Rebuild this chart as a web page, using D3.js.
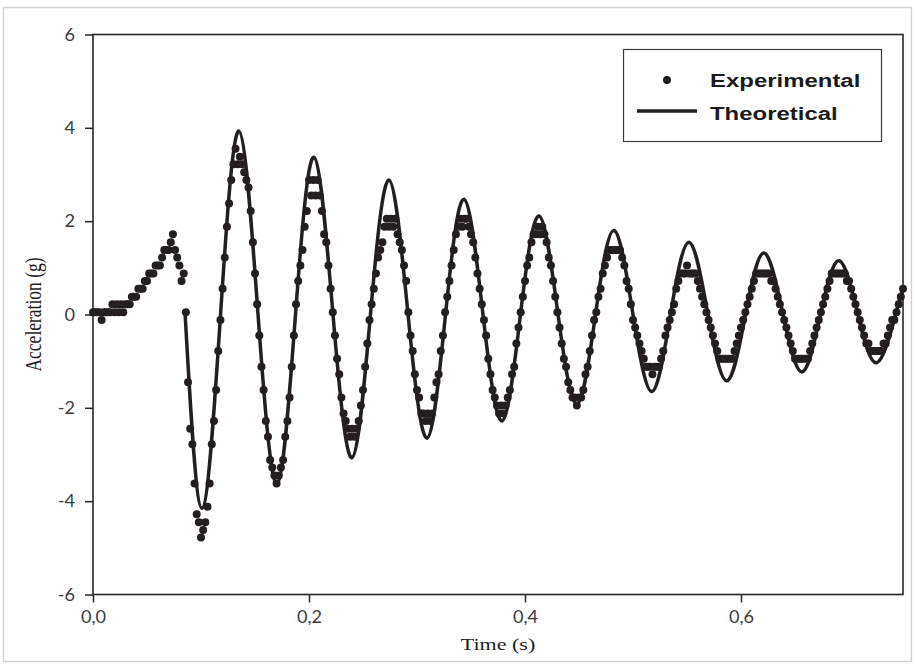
<!DOCTYPE html>
<html>
<head>
<meta charset="utf-8">
<script src="https://cdn.jsdelivr.net/npm/d3@7"></script>
<style>
  html, body { margin: 0; padding: 0; background: #fff; }
  svg { display: block; }
</style>
</head>
<body>
<svg id="chart" width="915" height="666"></svg>
<script>
// ---- data -------------------------------------------------------------
// Accelerometer record: one reading every 2 ms, starting at t = 0 s (g)
const sampleInterval = 0.002;
const expValues = [
  0.05, 0.05, 0.05, 0.05, -0.12, 0.05, 0.05, 0.05, 0.05, 0.22,
  0.05, 0.22, 0.05, 0.22, 0.05, 0.22, 0.22, 0.22, 0.38, 0.38,
  0.38, 0.55, 0.55, 0.55, 0.72, 0.72, 0.88, 0.88, 0.88, 1.05,
  1.05, 1.05, 1.22, 1.38, 1.38, 1.38, 1.55, 1.72, 1.38, 1.22,
  1.05, 0.72, 0.88, 0.05, -1.45, -2.45, -2.78, -3.62, -4.28, -4.45,
  -4.78, -4.62, -4.45, -4.12, -3.62, -2.78, -2.28, -1.62, -0.78, -0.12,
  0.55, 1.22, 1.88, 2.38, 2.88, 3.22, 3.55, 3.22, 3.38, 3.22,
  3.05, 2.88, 2.72, 2.22, 1.55, 0.88, 0.22, -0.45, -1.12, -1.62,
  -2.28, -2.62, -3.12, -3.28, -3.45, -3.62, -3.45, -3.28, -3.12, -2.62,
  -2.28, -1.78, -1.12, -0.45, 0.22, 0.72, 1.05, 1.38, 1.88, 2.22,
  2.88, 2.55, 2.88, 2.55, 2.88, 2.55, 2.22, 1.72, 1.55, 1.05,
  0.55, 0.05, -0.45, -0.95, -1.28, -1.78, -2.12, -2.28, -2.45, -2.62,
  -2.45, -2.62, -2.45, -2.28, -1.95, -1.62, -1.12, -0.62, -0.12, 0.22,
  0.55, 0.88, 1.22, 1.38, 1.55, 1.88, 2.05, 1.88, 2.05, 1.88,
  2.05, 1.72, 1.55, 1.38, 1.05, 0.72, 0.05, -0.45, -0.78, -1.28,
  -1.62, -1.78, -2.12, -2.12, -2.28, -2.12, -2.28, -2.12, -1.78, -1.45,
  -1.28, -0.78, -0.45, 0.05, 0.38, 0.72, 1.05, 1.38, 1.72, 1.88,
  2.05, 1.88, 2.05, 2.05, 1.88, 1.72, 1.55, 1.22, 0.88, 0.55,
  0.22, -0.12, -0.45, -0.95, -1.28, -1.62, -1.78, -1.95, -2.12, -1.95,
  -2.12, -1.95, -1.78, -1.62, -1.28, -1.12, -0.62, -0.28, 0.05, 0.38,
  0.72, 1.05, 1.22, 1.55, 1.72, 1.72, 1.88, 1.72, 1.88, 1.72,
  1.55, 1.22, 1.05, 0.72, 0.38, 0.05, -0.28, -0.62, -0.95, -1.12,
  -1.45, -1.62, -1.78, -1.78, -1.95, -1.78, -1.78, -1.62, -1.28, -1.12,
  -0.78, -0.45, -0.12, 0.05, 0.38, 0.55, 0.88, 1.05, 1.22, 1.38,
  1.38, 1.38, 1.38, 1.38, 1.38, 1.22, 1.05, 0.72, 0.55, 0.22,
  -0.12, -0.28, -0.45, -0.62, -0.78, -0.95, -1.12, -1.12, -1.12, -1.28,
  -1.12, -1.12, -1.12, -0.95, -0.78, -0.45, -0.28, -0.12, 0.05, 0.22,
  0.55, 0.72, 0.88, 0.88, 0.88, 1.05, 0.88, 0.88, 0.88, 0.88,
  0.72, 0.55, 0.38, 0.22, 0.05, -0.12, -0.28, -0.45, -0.62, -0.78,
  -0.95, -0.95, -0.95, -0.95, -0.95, -0.95, -0.95, -0.78, -0.62, -0.45,
  -0.28, -0.12, 0.05, 0.22, 0.38, 0.55, 0.72, 0.88, 0.88, 0.88,
  0.88, 0.88, 0.88, 0.88, 0.72, 0.72, 0.55, 0.38, 0.22, 0.05,
  -0.12, -0.28, -0.45, -0.62, -0.78, -0.95, -0.95, -0.95, -0.95, -0.95,
  -0.95, -0.95, -0.78, -0.62, -0.45, -0.28, -0.12, 0.05, 0.22, 0.38,
  0.55, 0.72, 0.88, 0.88, 0.88, 0.88, 0.88, 0.88, 0.88, 0.72,
  0.72, 0.55, 0.38, 0.22, 0.05, -0.12, -0.28, -0.45, -0.62, -0.62,
  -0.78, -0.78, -0.78, -0.78, -0.78, -0.78, -0.62, -0.62, -0.45, -0.28,
  -0.12, -0.12, 0.05, 0.22, 0.38, 0.55
];

// Model response: extrema and zero crossings of the damped oscillation
const theoTime = [
  0.0852, 0.1009, 0.1181, 0.1352, 0.1528, 0.1704, 0.1875, 0.2046, 0.2222, 0.2398,
  0.2569, 0.2741, 0.2917, 0.3093, 0.3264, 0.3435, 0.3611, 0.3787, 0.3958, 0.4130,
  0.4306, 0.4481, 0.4653, 0.4824, 0.5000, 0.5176, 0.5347, 0.5519, 0.5694, 0.5870,
  0.6042, 0.6213, 0.6389, 0.6565, 0.6736, 0.6907, 0.7083, 0.7259, 0.7431, 0.7500
];
const theoValue = [
  0.05, -4.15, 0, 3.93, 0, -3.63, 0, 3.37, 0, -3.07,
  0, 2.88, 0, -2.65, 0, 2.47, 0, -2.28, 0, 2.11,
  0, -1.92, 0, 1.80, 0, -1.65, 0, 1.55, 0, -1.42,
  0, 1.32, 0, -1.23, 0, 1.15, 0, -1.03, 0, 0.57
];

const xTicks = [0, 0.2, 0.4, 0.6];
const yTicks = [-6, -4, -2, 0, 2, 4, 6];
const seriesNames = ["Experimental", "Theoretical"];

// ---- layout -----------------------------------------------------------
const ink = "#231f20";
const axisInk = "#262626";
const stretch = 1.26;     // horizontal glyph widening used for titles and legend
const tickStretch = 1.1;  // milder widening for tick numbers

const svg = d3.select("#chart");

// light outer frame
svg.append("rect")
  .attr("x", 3.5).attr("y", 7.5)
  .attr("width", 908).attr("height", 654)
  .attr("fill", "none").attr("stroke", "#d2d2d2").attr("stroke-width", 1.5);

const x = d3.scaleLinear().domain([0, 0.75]).range([93, 903]);
const y = d3.scaleLinear().domain([-6, 6]).range([594.5, 34.5]);

const locale = d3.formatLocale({
  decimal: ",", thousands: ".", grouping: [3], currency: ["", ""], minus: "-"
});
const fmtX = locale.format(".1f");
const fmtY = locale.format("d");

// axes
const gx = svg.append("g")
  .attr("transform", `translate(0,${y(-6)})`)
  .call(d3.axisBottom(x).tickValues(xTicks).tickSize(8).tickSizeOuter(0)
    .tickPadding(9).tickFormat(fmtX));
const gy = svg.append("g")
  .attr("transform", `translate(${x(0)},0)`)
  .call(d3.axisLeft(y).tickValues(yTicks).tickSize(8).tickSizeOuter(0)
    .tickPadding(10).tickFormat(fmtY));

[gx, gy].forEach(g => {
  g.select(".domain").remove();
  g.selectAll(".tick line").attr("stroke", axisInk).attr("stroke-width", 1.5);
  g.selectAll(".tick text")
    .attr("fill", "#3c3c3c")
    .style("font-family", "Lato, 'Open Sans', sans-serif")
    .style("font-weight", 400)
    .style("font-size", "16.5px");
});
gx.selectAll(".tick text").attr("transform", `scale(${tickStretch},1)`);
gy.selectAll(".tick text")
  .attr("x", -18 / tickStretch)
  .attr("dy", "0.34em")
  .attr("transform", `scale(${tickStretch},1)`);

// plot frame
svg.append("rect")
  .attr("x", x(0)).attr("y", y(6))
  .attr("width", x(0.75) - x(0)).attr("height", y(-6) - y(6))
  .attr("fill", "none").attr("stroke", axisInk).attr("stroke-width", 1.6);

// axis titles
svg.append("g")
  .attr("transform", `translate(${(x(0) + x(0.75)) / 2},650) scale(${stretch},1)`)
  .append("text")
  .attr("text-anchor", "middle")
  .attr("fill", "#1e1e1e")
  .style("font-family", "'Liberation Serif', 'DejaVu Serif', serif")
  .style("font-size", "17.5px")
  .text("Time (s)");

svg.append("g")
  .attr("transform", `translate(41,${(y(6) + y(-6)) / 2}) scale(${stretch},1) rotate(-90)`)
  .append("text")
  .attr("text-anchor", "middle")
  .attr("fill", "#1e1e1e")
  .style("font-family", "'Liberation Serif', 'DejaVu Serif', serif")
  .style("font-size", "17.5px")
  .text("Acceleration (g)");

// ---- series -----------------------------------------------------------
const theo = theoTime.map((t, i) => ({ t, v: theoValue[i] }));
const line = d3.line().x(d => x(d.t)).y(d => y(d.v)).curve(d3.curveNatural);

svg.append("path")
  .datum(theo)
  .attr("d", line)
  .attr("fill", "none")
  .attr("stroke", ink)
  .attr("stroke-width", 3.5)
  .attr("stroke-linejoin", "round");

const exp = expValues.map((v, i) => ({ t: i * sampleInterval, v }));
svg.append("g").selectAll("circle")
  .data(exp)
  .join("circle")
  .attr("cx", d => x(d.t))
  .attr("cy", d => y(d.v))
  .attr("r", 4)
  .attr("fill", ink);

// ---- legend -----------------------------------------------------------
const lg = svg.append("g");
lg.append("rect")
  .attr("x", 623.5).attr("y", 49.5).attr("width", 258).attr("height", 92)
  .attr("fill", "#fff").attr("stroke", "#3a3a3a").attr("stroke-width", 1.2);
lg.append("circle").attr("cx", 667).attr("cy", 80).attr("r", 4).attr("fill", ink);
lg.append("line")
  .attr("x1", 637).attr("x2", 697).attr("y1", 111).attr("y2", 111)
  .attr("stroke", ink).attr("stroke-width", 3.5);
[[87, seriesNames[0]], [120, seriesNames[1]]].forEach(([by, label]) => {
  lg.append("g")
    .attr("transform", `translate(710,${by}) scale(${stretch},1)`)
    .append("text")
    .attr("fill", "#1a1a1a")
    .style("font-family", "'Liberation Sans', Arial, sans-serif")
    .style("font-weight", "bold")
    .style("font-size", "19px")
    .text(label);
});
</script>
</body>
</html>
